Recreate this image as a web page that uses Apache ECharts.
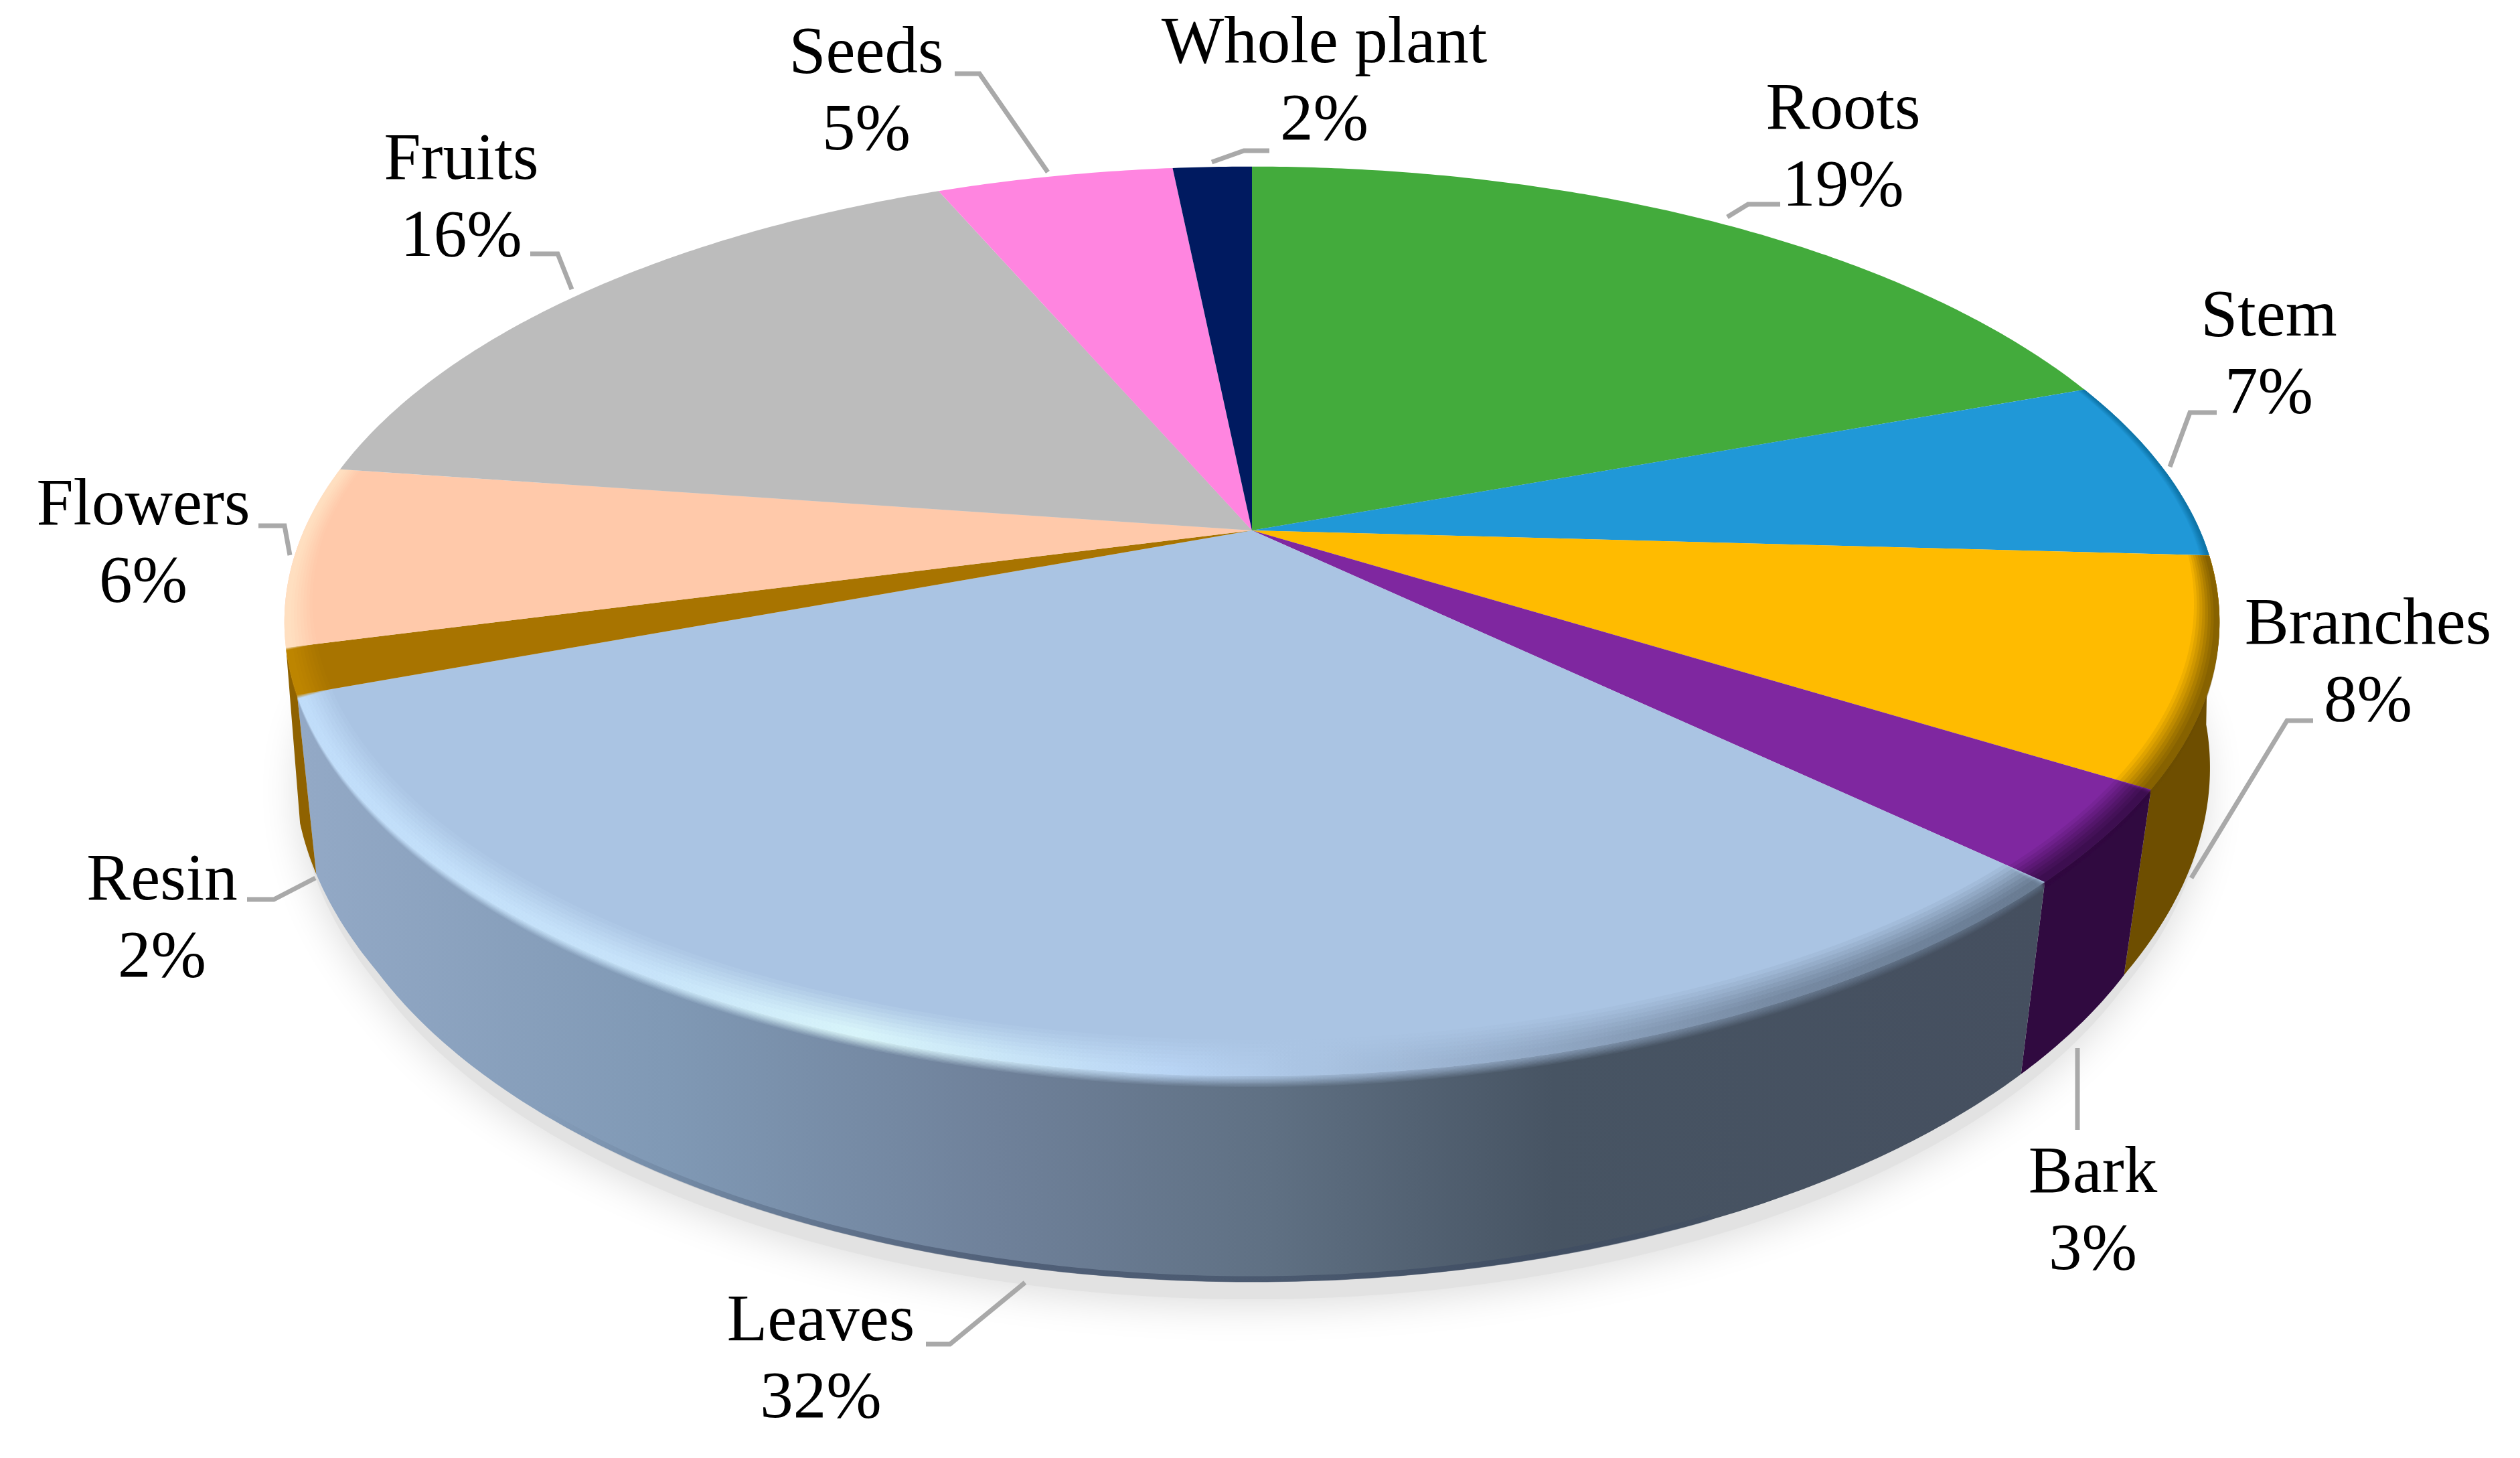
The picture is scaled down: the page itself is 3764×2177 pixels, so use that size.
<!DOCTYPE html>
<html>
<head>
<meta charset="utf-8">
<title>Plant parts pie</title>
<script src="https://cdn.jsdelivr.net/npm/echarts@6/dist/echarts.min.js"></script>
<style>
  html, body { margin: 0; padding: 0; background: #fff; }
  #chart { width: 3764px; height: 2177px; }
</style>
</head>
<body>
<div id="chart"></div>
<script>
// data, clockwise from 12 o'clock
const categories = ['Roots', 'Stem', 'Branches', 'Bark', 'Leaves', 'Resin', 'Flowers', 'Fruits', 'Seeds', 'Whole plant']
const values = [19.4, 6.5, 8.0, 3.3, 32.1, 1.6, 6.4, 16.3, 4.8, 1.6]

const topColors = ['#43ab3c', '#2098d7', '#ffbb00', '#7f27a0', '#aac4e3', '#a87400', '#ffc9aa', '#bcbcbc', '#ff85e0', '#001a60']
const wallColors = [null, null, '#6e4e00', '#300a40', null, '#8f6200', null, null, null, null]
const rimColors = [null, '#0d6ea0', '#6e4e00', '#300a40', null, '#c58a00', '#ffe6c8', null, null, null]
const rimScale = [0, 0.4, 0.9, 0.9, 1, 1, 1, 0, 0, 0]

// tilted disc projection
const cx = 1870
const cy = 792
const R = 1416
const S = 652
const persp = 0.2
const total = values.reduce((a, b) => a + b, 0)

const starts = []
values.reduce((sum, v, i) => {
  starts[i] = (sum / total) * 360
  return sum + v
}, 0)

function project(deg, f = 1) {
  const t = (deg * Math.PI) / 180
  const w = 1 + persp * f * Math.cos(t)
  return [cx + (R * f * Math.sin(t)) / w, cy - (S * f * Math.cos(t)) / w]
}

function projectBottom(deg) {
  const [x, y] = project(deg)
  const shrink = 1 - 0.03 * Math.min(1, Math.abs(Math.cos((deg * Math.PI) / 180)) * 1.9)
  return [cx + (x - cx) * shrink, cy + 250 + (y - cy) * 1.07]
}

function arc(a, b, fn) {
  const pts = []
  const n = Math.max(2, Math.ceil(Math.abs(b - a) * 2))
  for (let i = 0; i <= n; i++) pts.push(fn(a + ((b - a) * i) / n))
  return pts
}

const sliceEnd = (i) => starts[i] + (values[i] / total) * 360

const leavesWall = new echarts.graphic.LinearGradient(448, 0, 3047, 0, [
  { offset: 0, color: '#93a9c6' },
  { offset: 0.21, color: '#8099b5' },
  { offset: 0.4, color: '#6f819a' },
  { offset: 0.56, color: '#5f7083' },
  { offset: 0.72, color: '#475463' },
  { offset: 1, color: '#454f5f' },
], true)

const leavesRim = new echarts.graphic.LinearGradient(448, 0, 3047, 0, [
  { offset: 0, color: '#c5e2ff' },
  { offset: 0.2, color: '#cdeaff' },
  { offset: 0.32, color: '#e2ffff' },
  { offset: 0.5, color: '#bcd8f8' },
  { offset: 0.68, color: '#94abc8' },
  { offset: 0.85, color: '#6b7d94' },
  { offset: 1, color: '#5a6b80' },
], true)

const leavesFoot = new echarts.graphic.LinearGradient(800, 0, 2800, 0, [
  { offset: 0, color: 'rgba(60,74,98,0)' },
  { offset: 0.35, color: 'rgba(60,74,98,0.6)' },
  { offset: 0.75, color: 'rgba(60,74,98,0.6)' },
  { offset: 1, color: 'rgba(60,74,98,0)' },
], true)

// soft bevel: stacked translucent bands along the outer edge
const rimLayers = [
  { f: 0.955, drop: 16, opacity: 0.1 },
  { f: 0.96, drop: 14, opacity: 0.12 },
  { f: 0.965, drop: 12, opacity: 0.14 },
  { f: 0.97, drop: 10, opacity: 0.16 },
  { f: 0.975, drop: 8, opacity: 0.2 },
  { f: 0.98, drop: 6, opacity: 0.22 },
  { f: 0.985, drop: 4, opacity: 0.25 },
  { f: 0.99, drop: 2, opacity: 0.3 },
]

function renderShadow() {
  const pts = arc(0, 360, (d) => {
    const [x, y] = projectBottom(d)
    return [cx + (x - cx) * 0.995, y + 26]
  })
  return {
    type: 'polygon',
    shape: { points: pts },
    style: { fill: '#e2e2e2', shadowColor: '#dcdcdc', shadowBlur: 60, shadowOffsetY: 8 },
  }
}

function renderWall(params) {
  const i = params.dataIndex
  const isLeaves = categories[i] === 'Leaves'
  if (!wallColors[i] && !isLeaves) return null
  const a = starts[i]
  const b = sliceEnd(i)
  const pts = arc(a, b, (d) => project(d)).concat(arc(b, a, (d) => projectBottom(d)))
  const wall = {
    type: 'polygon',
    shape: { points: pts },
    style: { fill: isLeaves ? leavesWall : wallColors[i] },
  }
  if (!isLeaves) return wall
  return {
    type: 'group',
    children: [
      wall,
      {
        type: 'polyline',
        shape: { points: arc(a + 22, b - 15, (d) => {
          const [x, y] = projectBottom(d)
          return [x, y - 4]
        }) },
        style: { fill: null, stroke: leavesFoot, lineWidth: 9 },
      },
    ],
  }
}

function renderTop(params) {
  const i = params.dataIndex
  const a = starts[i]
  const b = sliceEnd(i)
  const children = [
    {
      type: 'polygon',
      shape: { points: [[cx, cy]].concat(arc(a, b, (d) => project(d))) },
      style: { fill: topColors[i] },
    },
  ]
  const isLeaves = categories[i] === 'Leaves'
  if (rimColors[i] || isLeaves) {
    rimLayers.forEach((layer) => {
      const frontOf = (d) => Math.max(0, -Math.cos((d * Math.PI) / 180))
      const outer = arc(a, b, (d) => {
        const [x, y] = project(d)
        return [x, y + layer.drop * frontOf(d)]
      })
      const inner = arc(b, a, (d) => {
        const width = (1 - layer.f) * rimScale[i] * (0.5 + 0.7 * frontOf(d))
        return project(d, 1 - width)
      })
      children.push({
        type: 'polygon',
        shape: { points: outer.concat(inner) },
        style: { fill: isLeaves ? leavesRim : rimColors[i], opacity: layer.opacity },
      })
    })
  }
  return { type: 'group', children }
}

// label spot and leader line for each slice, same order as categories
const labelSpots = [
  [2753, 223], [3389, 532], [3537, 992], [3126, 1811], [1226, 2032],
  [242, 1374], [214, 814], [689, 298], [1294, 139], [1978, 124],
]
const leaders = [
  [[2659, 305], [2611, 305], [2580, 324]],
  [[3311, 616], [3271, 616], [3241, 697]],
  [[3455, 1076], [3416, 1076], [3273, 1311]],
  [[3103, 1687], [3103, 1565]],
  [[1383, 2007], [1419, 2007], [1531, 1915]],
  [[369, 1343], [409, 1343], [471, 1311]],
  [[386, 785], [425, 785], [433, 829]],
  [[792, 379], [833, 379], [854, 432]],
  [[1426, 110], [1463, 110], [1565, 257]],
  [[1896, 225], [1858, 225], [1810, 242]],
]

function renderLabel(params) {
  const i = params.dataIndex
  return {
    type: 'group',
    children: [
      {
        type: 'polyline',
        shape: { points: leaders[i] },
        style: { fill: null, stroke: '#a9a9a9', lineWidth: 7 },
      },
      {
        type: 'text',
        x: labelSpots[i][0],
        y: labelSpots[i][1],
        style: {
          text: categories[i] + '\n' + Math.round(values[i]) + '%',
          fill: '#000',
          font: '99px "Liberation Serif"',
          lineHeight: 115,
          align: 'center',
          verticalAlign: 'middle',
        },
      },
    ],
  }
}

const seriesData = values.map((v, i) => ({ name: categories[i], value: v }))

const chart = echarts.init(document.getElementById('chart'), null, { renderer: 'canvas' })
chart.setOption({
  backgroundColor: '#fff',
  animation: false,
  series: [
    { type: 'custom', coordinateSystem: 'none', z: 1, silent: true, data: [total], renderItem: renderShadow },
    { type: 'custom', coordinateSystem: 'none', z: 2, silent: true, data: seriesData, renderItem: renderWall },
    { type: 'custom', coordinateSystem: 'none', z: 3, silent: true, data: seriesData, renderItem: renderTop },
    { type: 'custom', coordinateSystem: 'none', z: 4, silent: true, data: seriesData, renderItem: renderLabel },
  ],
})

window.addEventListener('resize', () => chart.resize())
</script>
</body>
</html>
